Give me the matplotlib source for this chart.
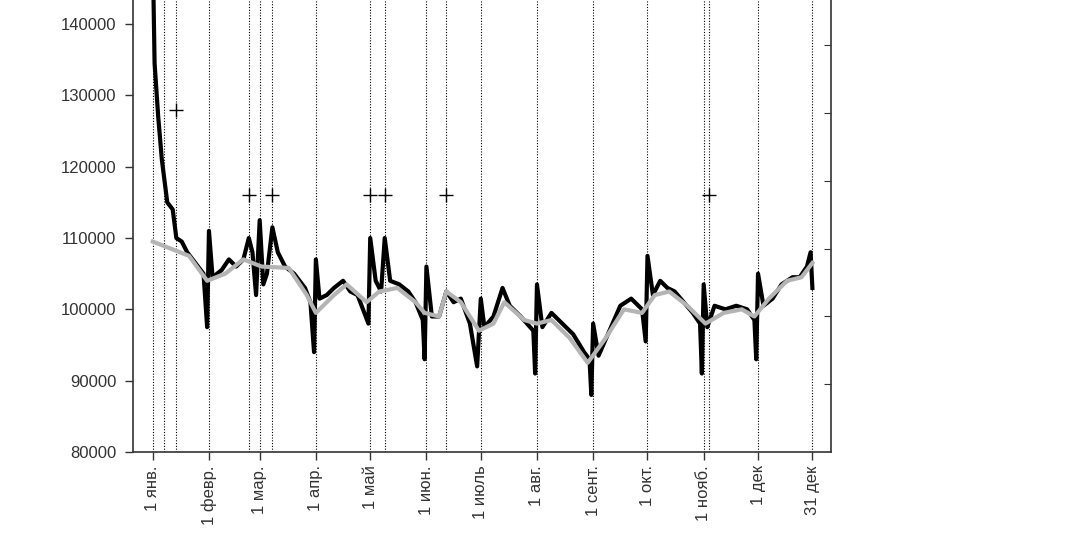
import matplotlib.pyplot as plt

plt.rcParams['font.family'] = ['Liberation Sans', 'DejaVu Sans']

# daily series, day of year (0 = 1 Jan)
days = [0, 1, 3, 5, 8, 11, 13, 16, 19, 22, 25, 28, 30, 31, 33, 38, 42, 46, 50, 53, 55, 57,
        59, 61, 63, 66, 69, 73, 78, 84, 87, 89, 90, 92, 96, 100, 105, 109, 113, 119, 120,
        123, 126, 128, 131, 136, 141, 145, 149, 150, 151, 154, 158, 162, 166, 170, 175,
        179, 181, 183, 188, 193, 197, 203, 210, 211, 212, 215, 220, 226, 232, 238, 241,
        242, 243, 246, 252, 258, 264, 270, 272, 273, 276, 280, 284, 288, 293, 298, 302,
        303, 304, 306, 310, 316, 322, 328, 332, 333, 334, 337, 342, 347, 353, 357, 361,
        363, 364]
values = [150000, 134500, 127000, 121000, 115000, 114000, 110000, 109500, 108000, 107000,
          106000, 105000, 97500, 111000, 104500, 105500, 107000, 106000, 107000, 110000,
          108000, 102000, 112500, 103500, 105000, 111500, 108000, 106000, 105000, 103000,
          101000, 94000, 107000, 101500, 102000, 103000, 104000, 102500, 102000, 98000,
          110000, 104000, 102500, 110000, 104000, 103500, 102500, 101000, 98500, 93000,
          106000, 99000, 99000, 102500, 101000, 101500, 98000, 92000, 101500, 97500, 99000,
          103000, 100500, 99000, 97000, 91000, 103500, 97500, 99500, 98000, 96500, 94000,
          93000, 88000, 98000, 93500, 97000, 100500, 101500, 100000, 95500, 107500, 102000,
          104000, 103000, 102500, 101000, 99500, 98000, 91000, 103500, 97500, 100500,
          100000, 100500, 100000, 98500, 93000, 105000, 100500, 101500, 103500, 104500,
          104500, 106000, 108000, 103000]

# smoothed trend
trend_days = [0, 20, 30, 40, 50, 60, 75, 85, 90, 100, 107, 118, 125, 135, 145, 150, 158,
              162, 170, 180, 188, 194, 205, 212, 220, 230, 240, 250, 260, 270, 277, 285,
              295, 305, 315, 325, 332, 340, 350, 358, 364]
trend = [109500, 107500, 104000, 105000, 107000, 106000, 105800, 102000, 99500, 102000,
         103500, 101000, 102500, 103000, 101000, 99500, 99000, 102500, 101000, 97000,
         98000, 101000, 98500, 98000, 98500, 96000, 92500, 96000, 100000, 99500, 102000,
         102500, 100500, 98000, 99500, 100000, 99000, 101500, 104000, 104500, 106500]

month_days = [0, 31, 59, 90, 120, 151, 181, 212, 243, 273, 304, 334, 364]
month_labels = ['1 янв.', '1 февр.', '1 мар.', '1 апр.', '1 май', '1 июн.', '1 июль',
                '1 авг.', '1 сент.', '1 окт.', '1 нояб.', '1 дек', '31 дек']
holiday_days = [6, 13, 53, 66, 128, 162, 307]
marker_days = [13, 53, 66, 120, 128, 162, 307]
marker_values = [128000, 116000, 116000, 116000, 116000, 116000, 116000]

fig = plt.figure(figsize=(10.8, 5.4), dpi=100)
ax = fig.add_axes([0.123, 0.163, 0.646, 0.837])

for d in month_days + holiday_days:
    ax.axvline(d, color='black', linestyle=(0, (1, 1.5)), linewidth=0.8, zorder=1)

ax.plot(days, values, color='black', linewidth=3, zorder=2)
ax.plot(trend_days, trend, color='#b4b4b4', linewidth=3, zorder=3)
ax.plot(marker_days, marker_values, linestyle='none', marker='+', color='black',
        markersize=10, markeredgewidth=1, zorder=4)

ax.set_xlim(-11, 374)
ax.set_ylim(80000, 143370)
ax.set_yticks(range(80000, 140001, 10000))
ax.set_xticks(month_days)
ax.set_xticklabels(month_labels, rotation=90)
ax.tick_params(axis='both', labelsize=12, direction='out', length=6, width=1, colors='#333333')
ax.tick_params(axis='y', pad=6)
ax.spines['top'].set_visible(False)
for s in ['left', 'bottom', 'right']:
    ax.spines[s].set_color('#333333')
    ax.spines[s].set_linewidth(1.2)

ax2 = ax.twinx()
ax2.set_ylim(80000, 143370)
ax2.set_yticks([89500, 99000, 108500, 118000, 127500, 137000])
ax2.tick_params(axis='y', direction='in', length=5, labelright=False, colors='#333333')
for s in ['top', 'left', 'bottom', 'right']:
    ax2.spines[s].set_visible(False)

fig.savefig('out.png', dpi=100)
